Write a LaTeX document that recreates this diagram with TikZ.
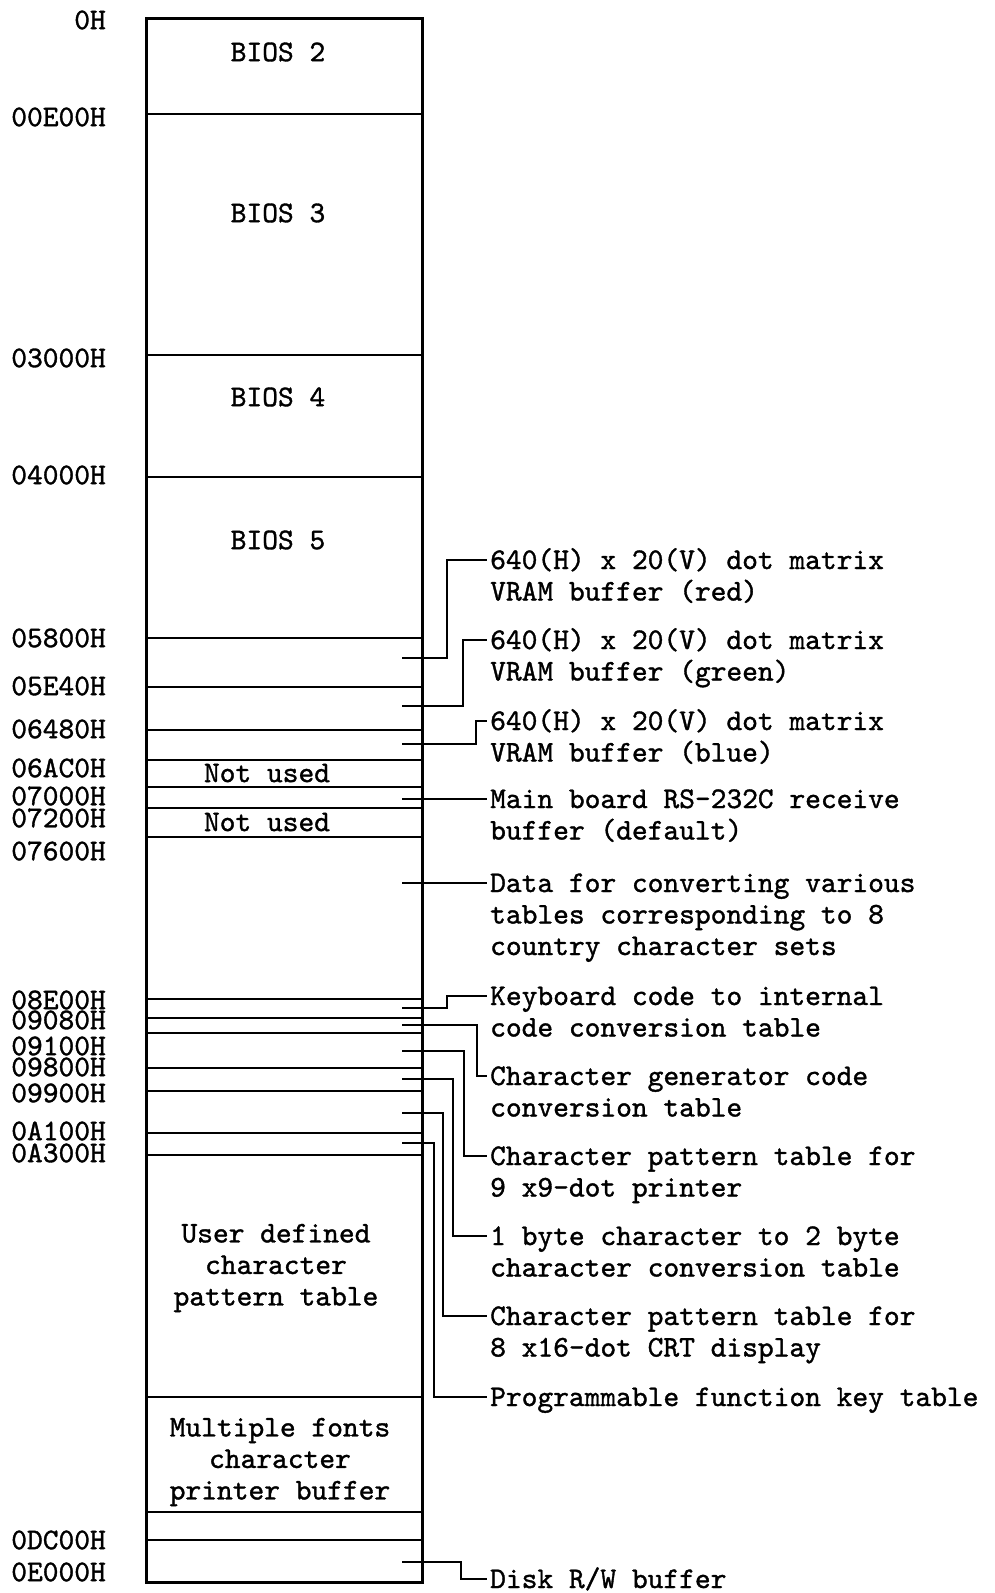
\documentclass[tikz,border=0pt]{standalone}
\usepackage{fontspec}
\usepackage{tikz}
\usetikzlibrary{calc}

\newfontfamily\memtt{lmmono10-regular.otf}[FakeBold=1.2]
\newcommand\memfont{\fontsize{30}{31.5}\selectfont\memtt}

\begin{document}
\begin{tikzpicture}[x=1pt, y=-1pt,
    addr/.style={anchor=east, inner sep=0pt, font=\memfont},
    area/.style={align=center, inner sep=0pt, font=\memfont},
    note/.style={anchor=base west, align=left, inner sep=0pt, font=\memfont},
    frame/.style={line width=3pt},
    sep/.style={line width=2.4pt},
    lead/.style={line width=2pt}]

    \useasboundingbox (0,0) rectangle (995,1593);

    \draw[frame] (146,18) rectangle (422,1582);
    \foreach \y in {114,355,477,638,687,730,760,787,808,837,999,1018,1033,1068,1091,1133,1155,1397,1512,1540}
        \draw[sep] (146,\y) -- (422,\y);

    \foreach \y/\a in {20/0H, 117/00E00H, 358/03000H, 475/04000H, 638/05800H, 686/05E40H,
        729/06480H, 768/06AC0H, 796/07000H, 818/07200H, 851/07600H, 1000/08E00H,
        1020/09080H, 1046/09100H, 1067/09800H, 1093/09900H, 1131/0A100H, 1153/0A300H,
        1540/0DC00H, 1572/0E000H}
        \node[addr] (a\a) at (106,\y) {\a};

    \node[area] (bios2) at (278,52) {BIOS 2};
    \node[area] (bios3) at (278,213) {BIOS 3};
    \node[area] (bios4) at (278,397) {BIOS 4};
    \node[area] (bios5) at (278,540) {BIOS 5};
    \node[area] (unused1) at (267,773) {Not used};
    \node[area] (unused2) at (267,822) {Not used};
    \node[area] (userdef) at (276,1268) {User defined\\character\\pattern table};
    \node[area] (fontbuf) at (280,1462) {Multiple fonts\\character\\printer buffer};

    % \k = lines below the first one
    \foreach \n/\s/\v/\t/\k/\txt in {
        red/658/447/560/1/{640(H) x 20(V) dot matrix\\VRAM buffer (red)},
        green/706/463/640/1/{640(H) x 20(V) dot matrix\\VRAM buffer (green)},
        blue/744/476/721/1/{640(H) x 20(V) dot matrix\\VRAM buffer (blue)},
        rsbuf/799/460/799/1/{Main board RS-232C receive\\buffer (default)},
        convdata/883/460/883/2/{Data for converting various\\tables corresponding to 8\\country character sets},
        kbd/1008/447/996/1/{Keyboard code to internal\\code conversion table},
        cgen/1025/477/1076/1/{Character generator code\\conversion table},
        prt/1051/464/1156/1/{Character pattern table for\\9 x9-dot printer},
        byte/1079/453/1236/1/{1 byte character to 2 byte\\character conversion table},
        crt/1113/443/1316/1/{Character pattern table for\\8 x16-dot CRT display},
        fkey/1143/434/1397/0/{Programmable function key table},
        disk/1562/461/1579/0/{Disk R/W buffer}}
    {
        \coordinate (s\n) at (402,\s);
        \coordinate (t\n) at (487,\t);
        \node[note] (\n) at (490,\t+9+31.5*\k) {\txt};
        \draw[lead] (s\n) -- (\v,\s) |- (t\n);
    }
\end{tikzpicture}
\end{document}
